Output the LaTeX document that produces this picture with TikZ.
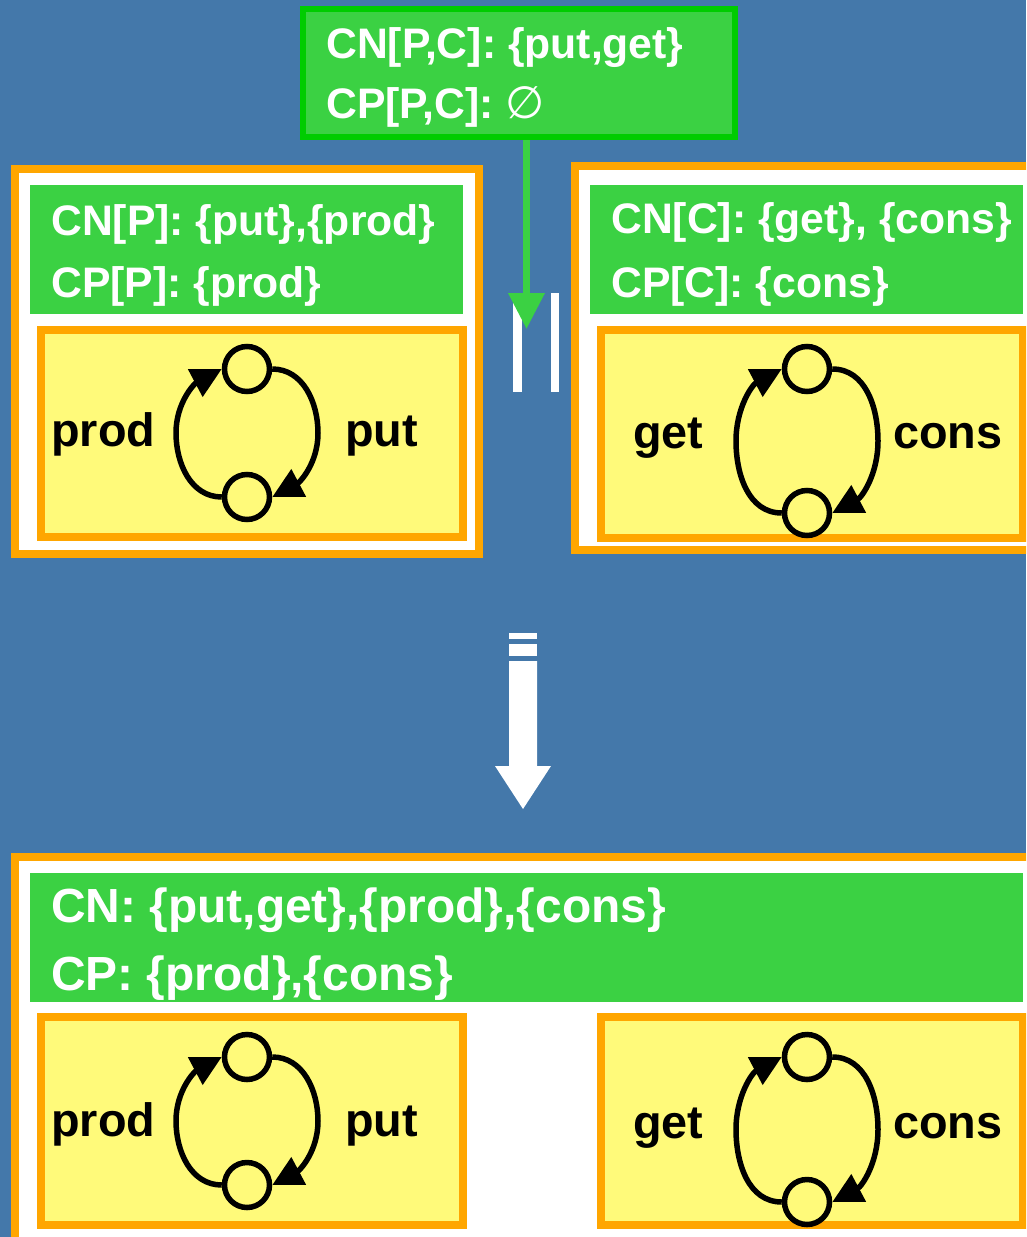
\documentclass[tikz,border=0pt]{standalone}
\usepackage{fontspec}
\setmainfont{Liberation Sans}
\newfontfamily\symfont{DejaVu Sans}
\usetikzlibrary{arrows.meta}

\definecolor{bgblue}{RGB}{68,120,170}
\definecolor{gfill}{RGB}{59,209,67}
\definecolor{gedge}{RGB}{0,204,0}
\definecolor{orng}{RGB}{255,166,0}
\definecolor{yel}{RGB}{255,250,122}

\tikzset{
  frame/.style={draw=orng, line width=8pt, fill=white, inner sep=0pt},
  yframe/.style={draw=orng, line width=8pt, fill=yel, inner sep=0pt},
  gband/.style={fill=gfill, inner sep=0pt},
  topbox/.style={draw=gedge, line width=6pt, fill=gfill, inner sep=0pt},
  gtext/.style={text=white, font=\fontsize{42.7pt}{50pt}\selectfont\bfseries,
                anchor=base west, inner sep=0pt},
  btext/.style={gtext, font=\fontsize{47.9pt}{56pt}\selectfont\bfseries},
  lbl/.style={text=black, font=\fontsize{46.8pt}{55pt}\selectfont\bfseries,
              anchor=base west, inner sep=0pt},
  place/.style={circle, draw=black, line width=5.5pt, fill=yel,
                minimum size=45pt, inner sep=0pt},
  flow/.style={draw=black, line width=5.5pt, -{Triangle[length=30pt,width=30pt]}},
  bar/.style={fill=white, inner sep=0pt},
  garrow/.style={draw=gfill, line width=7pt, -{Triangle[length=36pt,width=35pt]}},
}

% two places joined by two arcs forming a cycle
% #1 prefix, #2 x, #3 top y, #4 bottom y, #5 half width of the loop
\newcommand\ringfig[5]{%
  \node[place] (#1t) at (#2,#3) {};
  \node[place] (#1b) at (#2,#4) {};
  \coordinate (#1l) at ({#2-#5},{(#3+#4)/2});
  \coordinate (#1r) at ({#2+#5},{(#3+#4)/2});
  \draw[flow] (#1b.west) to[out=180,in=-90] (#1l) to[out=90,in=208] (#1t.west);
  \draw[flow] (#1t.east) to[out=0,in=90] (#1r) to[out=-90,in=28] (#1b.east);
}

\begin{document}
\begin{tikzpicture}[x=1pt,y=1pt]
\useasboundingbox (0,0) rectangle (1026,-1237);
\clip (0,0) rectangle (1026,-1237);
\fill[bgblue] (0,0) rectangle (1026,-1237);

% parallel composition operator
\node[bar, minimum width=9pt, minimum height=99pt] (barA) at (517.5,-342.5) {};
\node[bar, minimum width=8pt, minimum height=99pt] (barB) at (555,-342.5) {};

% shared interface
\node[topbox, minimum width=432pt, minimum height=128pt] (pc) at (519,-73) {};
\node[gtext] (pcn) at (326,-58) {CN[P,C]: \{put,get\}};
\node[gtext] (pcp) at (326,-118) {CP[P,C]: {\symfont\mdseries\fontsize{45pt}{50pt}\selectfont ∅}};
\coordinate (tip) at (526.5,-329);
\draw[garrow] (pc.south -| tip) -- (tip);

% component P
\node[frame, minimum width=464pt, minimum height=385pt] (boxP) at (247,-361.5) {};
\node[gband, minimum width=433pt, minimum height=129pt] (bandP) at (246.5,-249.5) {};
\node[gtext] (cnP) at (51,-235) {CN[P]: \{put\},\{prod\}};
\node[gtext] (cpP) at (51,-297) {CP[P]: \{prod\}};
\node[yframe, minimum width=422pt, minimum height=207pt] (netP) at (252,-433.5) {};
\ringfig{p}{247}{-369}{-497}{71}
\node[lbl] (lprod) at (51,-446) {prod};
\node[lbl] (lput) at (345,-446) {put};

% component C
\node[frame, minimum width=461pt, minimum height=384pt] (boxC) at (805.5,-358) {};
\node[gband, minimum width=433pt, minimum height=129pt] (bandC) at (806.5,-249.5) {};
\node[gtext] (cnC) at (611,-233) {CN[C]: \{get\}, \{cons\}};
\node[gtext] (cpC) at (611,-297) {CP[C]: \{cons\}};
\node[yframe, minimum width=422pt, minimum height=208pt] (netC) at (812,-434) {};
\ringfig{c}{807}{-369}{-513}{71}
\node[lbl] (lget) at (633,-448) {get};
\node[lbl] (lcons) at (893,-448) {cons};

% composition step
\fill[white] (509,-633) rectangle (537,-639);
\fill[white] (509,-644) rectangle (537,-656);
\fill[white] (509,-661) -- (537,-661) -- (537,-766) -- (551,-766)
             -- (523,-809) -- (495,-766) -- (509,-766) -- cycle;

% composed system
\node[frame, minimum width=1021pt, minimum height=389pt] (boxS) at (525.5,-1051.5) {};
\node[gband, minimum width=993pt, minimum height=129pt] (bandS) at (526.5,-937.5) {};
\node[btext] (cnS) at (51,-922) {CN: \{put,get\},\{prod\},\{cons\}};
\node[btext] (cpS) at (51,-990) {CP: \{prod\},\{cons\}};
\node[yframe, minimum width=422pt, minimum height=208pt] (netSP) at (252,-1121) {};
\ringfig{sp}{247}{-1057}{-1185}{71}
\node[lbl] (sprod) at (51,-1136) {prod};
\node[lbl] (sput) at (345,-1136) {put};
\node[yframe, minimum width=422pt, minimum height=208pt] (netSC) at (812,-1121) {};
\ringfig{sc}{807}{-1057}{-1202}{71}
\node[lbl] (sget) at (633,-1138) {get};
\node[lbl] (scons) at (893,-1138) {cons};
\end{tikzpicture}
\end{document}
